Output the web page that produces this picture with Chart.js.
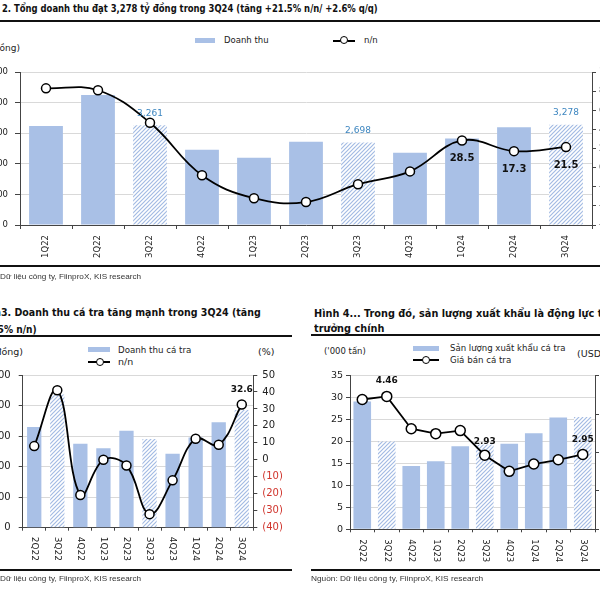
<!DOCTYPE html>
<html>
<head>
<meta charset="utf-8">
<script src="https://cdn.jsdelivr.net/npm/chart.js@4.4.1/dist/chart.umd.min.js"></script>
<style>
  html, body { margin: 0; padding: 0; width: 600px; height: 600px; overflow: hidden; background: #fff; }
  body { position: relative; font-family: "DejaVu Sans", sans-serif; color: #222; }
  .t { position: absolute; white-space: nowrap; line-height: 1; transform-origin: 0 50%; }
  .r { transform-origin: 100% 50%; }
  .title { font-weight: bold; color: #111; }
  .src { font-family: "Liberation Sans", Arial, sans-serif; color: #333; }
  .rule { position: absolute; height: 2px; background: #111; }
  .sw { position: absolute; height: 5px; background: #a9c0e6; }
  .ln { position: absolute; height: 2px; background: #000; }
  .dot { position: absolute; width: 6px; height: 6px; border: 1.5px solid #000; border-radius: 50%; background: #fff; }
  .box { position: absolute; }
</style>
</head>
<body>

<!-- Hình 2 -->
<div class="t title" data-w="376" style="left:2px;top:3px;font-size:10.5px">2. Tổng doanh thu đạt 3,278 tỷ đồng trong 3Q24 (tăng +21.5% n/n/ +2.6% q/q)</div>
<div class="rule" style="left:0;top:20px;width:600px"></div>
<div class="t" style="right:580px;top:43.5px;font-size:9px">(tỷ đồng)</div>
<div class="sw" style="left:195px;top:38px;width:20px"></div>
<div class="t" style="left:224px;top:35.5px;font-size:8.5px">Doanh thu</div>
<div class="ln" style="left:333px;top:39.5px;width:22px"></div>
<div class="dot" style="left:339.5px;top:36px"></div>
<div class="t" style="left:364px;top:35.5px;font-size:8.5px">n/n</div>
<div class="box" style="left:-30px;top:60px;width:680px;height:210px"><canvas id="cA"></canvas></div>
<div class="rule" style="left:0;top:265px;width:600px"></div>
<div class="t src" style="right:600px;top:273px;font-size:8px">Nguồn: </div>
<div class="t src" data-w="141" style="left:0;top:273px;font-size:8px">Dữ liệu công ty, FiinproX, KIS research</div>

<!-- Hình 3 -->
<div class="t title r" style="right:599px;top:306.5px;font-size:11px">Hình </div>
<div class="t title" data-w="260" style="left:1px;top:306.5px;font-size:11px">3. Doanh thu cá tra tăng mạnh trong 3Q24 (tăng</div>
<div class="t title r" style="right:596px;top:323.5px;font-size:11px">+32.6</div>
<div class="t title" data-w="33" style="left:4px;top:323.5px;font-size:11px">% n/n)</div>
<div class="rule" style="left:0;top:335px;width:292px"></div>
<div class="t" style="right:577px;top:347px;font-size:9.5px">(tỷ đồng)</div>
<div class="sw" style="left:88px;top:347px;width:22px"></div>
<div class="t" data-w="73" style="left:118px;top:345px;font-size:9.5px">Doanh thu cá tra</div>
<div class="ln" style="left:88px;top:361px;width:22px"></div>
<div class="dot" style="left:95.5px;top:357.5px"></div>
<div class="t" style="left:118px;top:357px;font-size:9.5px">n/n</div>
<div class="t" style="left:258px;top:347px;font-size:9.5px">(%)</div>
<div class="box" style="left:-30px;top:360px;width:330px;height:215px"><canvas id="cB"></canvas></div>
<div class="rule" style="left:0;top:569px;width:292px"></div>
<div class="t src" data-w="141" style="left:0;top:575px;font-size:8px">Dữ liệu công ty, FiinproX, KIS research</div>

<!-- Hình 4 -->
<div class="t title" data-w="284" data-m="1" style="left:314px;top:307.5px;font-size:11px"><span>Hình 4... Trong đó, sản lượng xuất khẩu là động lực </span>tăng</div>
<div class="t title" data-w="70" style="left:314px;top:322.5px;font-size:11px">trưởng chính</div>
<div class="rule" style="left:311px;top:334px;width:289px"></div>
<div class="t" data-w="42" style="left:324px;top:346px;font-size:9.5px">('000 tấn)</div>
<div class="sw" style="left:413px;top:345.5px;width:26px"></div>
<div class="t" data-w="116" style="left:450px;top:342.75px;font-size:9.5px">Sản lượng xuất khẩu cá tra</div>
<div class="ln" style="left:413px;top:359px;width:26px"></div>
<div class="dot" style="left:421.5px;top:355.5px"></div>
<div class="t" data-w="61" style="left:450px;top:355px;font-size:9.5px">Giá bán cá tra</div>
<div class="t" style="left:577px;top:349px;font-size:9.5px">(USD/kg)</div>
<div class="box" style="left:300px;top:360px;width:340px;height:215px"><canvas id="cC"></canvas></div>
<div class="rule" style="left:311px;top:569px;width:289px"></div>
<div class="t src" data-w="172" style="left:311px;top:575px;font-size:8px">Nguồn: Dữ liệu công ty, FiinproX, KIS research</div>

<script>
// Hình 2: tổng doanh thu (tỷ đồng) và tăng trưởng n/n (%)
const quartersA = ['1Q22', '2Q22', '3Q22', '4Q22', '1Q23', '2Q23', '3Q23', '4Q23', '1Q24', '2Q24', '3Q24'];
const revenueA = [3240, 4250, 3261, 2460, 2200, 2720, 2698, 2365, 2830, 3195, 3278];
const yoyA = [83, 81, 47, -8, -32, -36, -17.3, -3.9, 28.5, 17.3, 21.5];
const leftTicksA = [0, 1000, 2000, 3000, 4000, 5000];
const rightTicksA = [-60, -40, -20, 0, 20, 40, 60, 80, 100];

// Hình 3: doanh thu cá tra (tỷ đồng) và n/n (%)
const quartersB = ['2Q22', '3Q22', '4Q22', '1Q23', '2Q23', '3Q23', '4Q23', '1Q24', '2Q24', '3Q24'];
const revenueB = [1648, 2180, 1375, 1300, 1588, 1452, 1212, 1475, 1725, 1927];
const yoyB = [8.1, 41, -20.7, 0, -3.3, -32, -12.1, 12.4, 8.9, 32.6];
const leftTicksB = [0, 500, 1000, 1500, 2000, 2500];
const rightTicksB = [-40, -30, -20, -10, 0, 10, 20, 30, 40, 50];

// Hình 4: sản lượng xuất khẩu ('000 tấn) và giá bán (USD/kg)
const quartersC = ['2Q22', '3Q22', '4Q22', '1Q23', '2Q23', '3Q23', '4Q23', '1Q24', '2Q24', '3Q24'];
const volumeC = [29.1, 20.0, 14.4, 15.5, 18.9, 19.3, 19.5, 21.9, 25.5, 25.6];
const priceC = [4.38, 4.46, 3.62, 3.49, 3.57, 2.93, 2.51, 2.70, 2.81, 2.95];
const leftTicksC = [0, 5, 10, 15, 20, 25, 30, 35];
const rightTicksC = [1, 2, 3, 4, 5];

Chart.defaults.font.family = '"DejaVu Sans", sans-serif';
Chart.defaults.color = '#222';

const BLUE = '#a9c0e6';
const AXIS = '#444';
const GRID = '#d9d9d9';

function makeHatch() {
  const c = document.createElement('canvas');
  c.width = 4; c.height = 4;
  const g = c.getContext('2d');
  g.fillStyle = '#fff';
  g.fillRect(0, 0, 4, 4);
  g.strokeStyle = '#a3bbe3';
  g.lineWidth = 1.2;
  g.beginPath();
  g.moveTo(0, 4); g.lineTo(4, 0);
  g.moveTo(-1, 1); g.lineTo(1, -1);
  g.moveTo(3, 5); g.lineTo(5, 3);
  g.stroke();
  return g.createPattern(c, 'repeat');
}
const hatch = makeHatch();
const barColors = q => q.map(s => s.startsWith('3Q') ? hatch : BLUE);
const fmt = v => v.toLocaleString('en-US');

// labels on top of chosen points/bars
function valueLabels(items) {
  return {
    id: 'valueLabels',
    afterDatasetsDraw(chart) {
      const ctx = chart.ctx;
      items.forEach(it => {
        const el = chart.getDatasetMeta(it.ds).data[it.i];
        const v = chart.data.datasets[it.ds].data[it.i];
        ctx.save();
        ctx.font = it.font;
        ctx.fillStyle = it.color;
        ctx.textAlign = 'center';
        ctx.textBaseline = 'middle';
        ctx.fillText(it.text(v), el.x, el.y + it.dy);
        ctx.restore();
      });
    }
  };
}

// x labels turned to read top-to-bottom
function vertLabels(offset, size) {
  return {
    id: 'vertLabels',
    afterDraw(chart) {
      const sx = chart.scales.x, ctx = chart.ctx;
      ctx.save();
      ctx.font = size + 'px "DejaVu Sans"';
      ctx.fillStyle = '#222';
      ctx.textAlign = 'left';
      ctx.textBaseline = 'middle';
      chart.data.labels.forEach((lab, i) => {
        ctx.save();
        ctx.translate(sx.getPixelForValue(i), sx.top + offset);
        ctx.rotate(Math.PI / 2);
        ctx.fillText(lab, 0, 0);
        ctx.restore();
      });
      ctx.restore();
    }
  };
}

const lineStyle = r => ({
  type: 'line', yAxisID: 'y1', order: 1,
  borderColor: '#000', borderWidth: 1.8,
  pointRadius: r, pointBackgroundColor: '#fff', pointBorderColor: '#000', pointBorderWidth: 1.5
});

const base = {
  responsive: true, maintainAspectRatio: false, animation: false,
  plugins: { legend: { display: false }, tooltip: { enabled: false } }
};

// ---- Hình 2
new Chart(document.getElementById('cA'), {
  data: {
    labels: quartersA,
    datasets: [
      { ...lineStyle(4.5), data: yoyA, tension: 0.4 },
      { type: 'bar', yAxisID: 'y', order: 2, data: revenueA, backgroundColor: barColors(quartersA),
        categoryPercentage: 1, barPercentage: 0.65 }
    ]
  },
  options: {
    ...base,
    layout: { padding: { top: 12 } },
    scales: {
      x: {
        grid: { offset: true, drawOnChartArea: false, tickColor: AXIS, tickLength: 4 },
        border: { color: AXIS },
        ticks: { minRotation: 90, maxRotation: 90, padding: 6, font: { size: 8.5 } },
        afterFit: s => { s.height = 45; }
      },
      y: {
        position: 'left', min: leftTicksA[0], max: leftTicksA[leftTicksA.length - 1],
        ticks: { stepSize: leftTicksA[1] - leftTicksA[0], padding: 7, font: { size: 8.5 }, callback: fmt },
        grid: { color: GRID, tickColor: AXIS, tickLength: 5 },
        border: { color: AXIS },
        afterFit: s => { s.width = 50; }
      },
      y1: {
        position: 'right', min: rightTicksA[0], max: rightTicksA[rightTicksA.length - 1],
        ticks: { stepSize: rightTicksA[1] - rightTicksA[0], font: { size: 8.5 } },
        grid: { drawOnChartArea: false, tickColor: AXIS, tickLength: 4 },
        border: { color: AXIS },
        afterFit: s => { s.width = 58; }
      }
    }
  },
  plugins: [valueLabels([
    { ds: 1, i: 2, dy: -12, text: fmt, color: '#3d86c0', font: '9px "DejaVu Sans"' },
    { ds: 1, i: 6, dy: -12, text: fmt, color: '#3d86c0', font: '9px "DejaVu Sans"' },
    { ds: 1, i: 10, dy: -12, text: fmt, color: '#3d86c0', font: '9px "DejaVu Sans"' },
    { ds: 0, i: 8, dy: 18, text: v => v.toFixed(1), color: '#111', font: 'bold 10px "DejaVu Sans"' },
    { ds: 0, i: 9, dy: 18, text: v => v.toFixed(1), color: '#111', font: 'bold 10px "DejaVu Sans"' },
    { ds: 0, i: 10, dy: 18, text: v => v.toFixed(1), color: '#111', font: 'bold 10px "DejaVu Sans"' }
  ])]
});

// ---- Hình 3
new Chart(document.getElementById('cB'), {
  data: {
    labels: quartersB,
    datasets: [
      { ...lineStyle(4.5), data: yoyB, tension: 0.4 },
      { type: 'bar', yAxisID: 'y', order: 2, data: revenueB, backgroundColor: barColors(quartersB),
        categoryPercentage: 1, barPercentage: 0.62 }
    ]
  },
  options: {
    ...base,
    layout: { padding: { top: 15 } },
    scales: {
      x: {
        grid: { offset: true, drawOnChartArea: false, tickColor: AXIS, tickLength: 3 },
        border: { color: AXIS },
        ticks: { display: false },
        afterFit: s => { s.height = 47.3; }
      },
      y: {
        position: 'left', min: leftTicksB[0], max: leftTicksB[leftTicksB.length - 1],
        ticks: { stepSize: leftTicksB[1] - leftTicksB[0], padding: 8, font: { size: 10 }, callback: fmt },
        grid: { color: GRID, tickColor: AXIS, tickLength: 4 },
        border: { color: AXIS },
        afterFit: s => { s.width = 52.7; }
      },
      y1: {
        position: 'right', min: rightTicksB[0], max: rightTicksB[rightTicksB.length - 1],
        ticks: {
          stepSize: rightTicksB[1] - rightTicksB[0], padding: 5, font: { size: 10 },
          callback: v => v < 0 ? '(' + (-v) + ')' : v,
          color: c => c.tick && c.tick.value < 0 ? '#d0342c' : '#222'
        },
        grid: { drawOnChartArea: false, tickColor: AXIS, tickLength: 4 },
        border: { color: AXIS },
        afterFit: s => { s.width = 46.7; }
      }
    }
  },
  plugins: [
    vertLabels(9, 9),
    valueLabels([{ ds: 0, i: 9, dy: -15, text: v => v.toFixed(1), color: '#111', font: 'bold 9px "DejaVu Sans"' }])
  ]
});

// ---- Hình 4
new Chart(document.getElementById('cC'), {
  data: {
    labels: quartersC,
    datasets: [
      { ...lineStyle(5), data: priceC, tension: 0 },
      { type: 'bar', yAxisID: 'y', order: 2, data: volumeC, backgroundColor: barColors(quartersC),
        categoryPercentage: 1, barPercentage: 0.72 }
    ]
  },
  options: {
    ...base,
    layout: { padding: { top: 15.7 } },
    scales: {
      x: {
        grid: { offset: true, drawOnChartArea: false, tickColor: AXIS, tickLength: 3 },
        border: { color: AXIS },
        ticks: { display: false },
        afterFit: s => { s.height = 45.7; }
      },
      y: {
        position: 'left', min: leftTicksC[0], max: leftTicksC[leftTicksC.length - 1],
        ticks: { stepSize: leftTicksC[1] - leftTicksC[0], padding: 3, font: { size: 9.5 } },
        grid: { color: GRID, tickColor: AXIS, tickLength: 4 },
        border: { color: AXIS },
        afterFit: s => { s.width = 50; }
      },
      y1: {
        position: 'right', min: rightTicksC[0], max: rightTicksC[rightTicksC.length - 1],
        ticks: { stepSize: 1, font: { size: 9.5 } },
        grid: { drawOnChartArea: false, tickColor: AXIS, tickLength: 4 },
        border: { color: AXIS },
        afterFit: s => { s.width = 45; }
      }
    }
  },
  plugins: [
    vertLabels(10, 8.5),
    valueLabels([
      { ds: 0, i: 1, dy: -16, text: v => v.toFixed(2), color: '#111', font: 'bold 9px "DejaVu Sans"' },
      { ds: 0, i: 5, dy: -14, text: v => v.toFixed(2), color: '#111', font: 'bold 9px "DejaVu Sans"' },
      { ds: 0, i: 9, dy: -15, text: v => v.toFixed(2), color: '#111', font: 'bold 9px "DejaVu Sans"' }
    ])
  ]
});

// squeeze html text to the widths seen in the picture (offsetWidth ignores transforms)
function fitText() {
  document.querySelectorAll('[data-w]').forEach(el => {
    const target = el.dataset.m ? el.firstElementChild : el;
    const w = target.offsetWidth;
    if (w > 0) el.style.transform = 'scaleX(' + (el.dataset.w / w) + ')';
  });
}
fitText();
document.fonts.ready.then(fitText);
</script>
</body>
</html>
